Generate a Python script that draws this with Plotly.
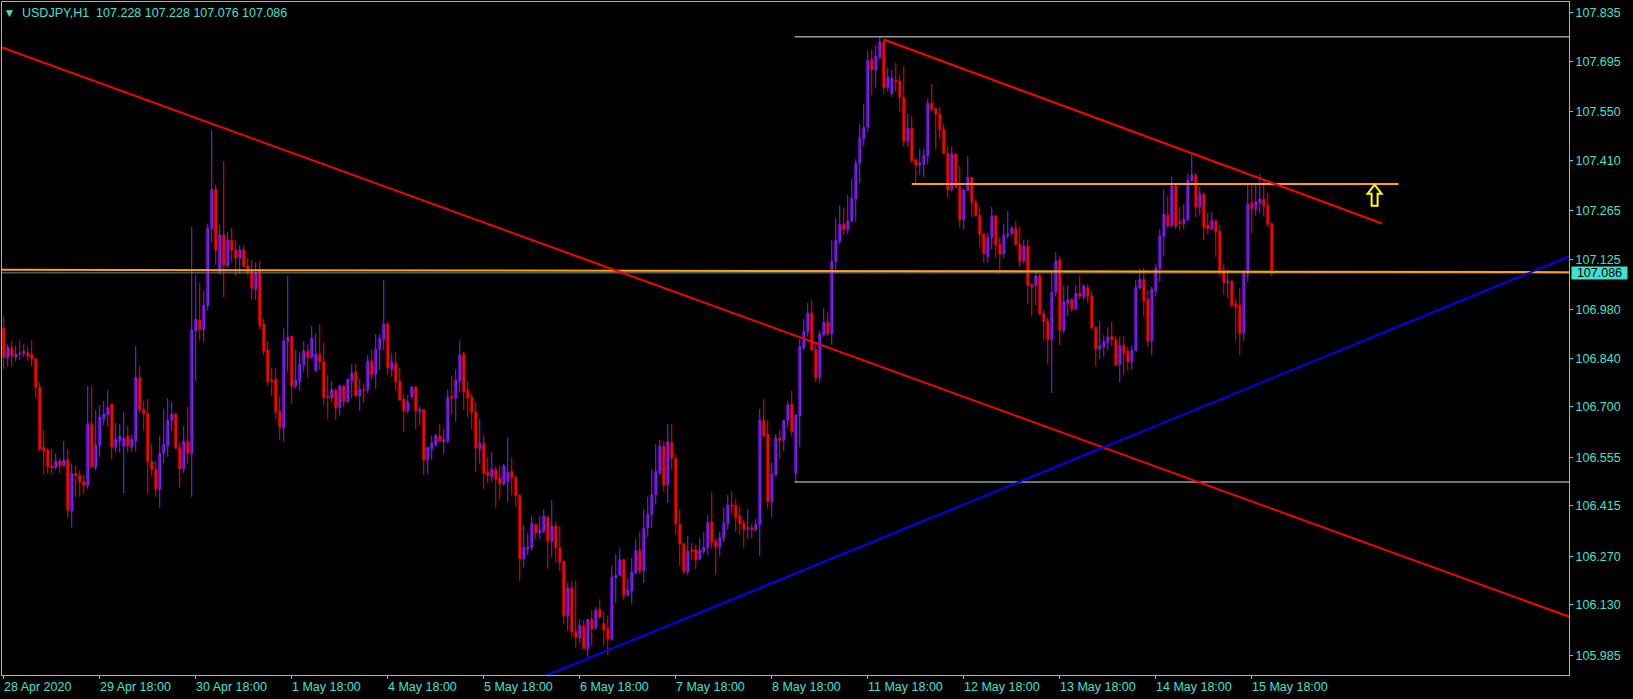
import plotly.graph_objects as go

# ---------------- data (USDJPY H1, one value per bar) ----------------
opens = [106.926,106.843,106.868,106.844,106.855,106.855,106.855,106.851,106.839,106.756,
106.583,106.576,106.530,106.526,106.544,106.530,106.547,106.401,106.508,106.503,
106.486,106.475,106.650,106.528,106.589,106.666,106.678,106.708,106.585,106.603,
106.587,106.615,106.585,106.602,106.785,106.693,106.681,106.543,106.520,106.463,
106.568,106.588,106.662,106.679,106.583,106.522,106.601,106.566,106.919,106.950,
106.923,106.992,107.214,107.327,107.088,107.195,107.108,107.180,107.152,107.129,
107.152,107.106,107.089,107.039,107.091,106.938,106.864,106.776,106.780,106.688,
106.640,106.888,106.903,106.760,106.775,106.822,106.861,106.844,106.804,106.851,
106.829,106.731,106.727,106.748,106.698,106.760,106.715,106.775,106.799,106.732,
106.750,106.750,106.832,106.794,106.866,106.896,106.938,106.809,106.825,106.774,
106.722,106.689,106.729,106.757,106.689,106.693,106.547,106.579,106.591,106.616,
106.600,106.602,106.731,106.726,106.775,106.852,106.748,106.728,106.685,106.579,
106.595,106.512,106.499,106.520,106.495,106.479,106.484,106.514,106.496,106.446,
106.263,106.291,106.295,106.362,106.338,106.343,106.382,106.314,106.357,106.295,
106.256,106.099,106.178,106.054,106.036,106.069,106.004,106.088,106.065,106.117,
106.076,106.062,106.032,106.208,106.215,106.259,106.158,106.170,106.222,106.286,
106.229,106.352,106.391,106.447,106.509,106.586,106.476,106.597,106.551,106.361,
106.306,106.226,106.288,106.288,106.262,106.284,106.295,106.369,106.314,106.297,
106.322,106.363,106.418,106.416,106.385,106.366,106.349,106.352,106.347,106.361,
106.661,106.621,106.427,106.505,106.610,106.604,106.661,106.707,106.509,106.674,
106.870,106.917,106.970,106.865,106.787,106.908,106.943,106.912,107.119,107.177,
107.226,107.211,107.235,107.299,107.403,107.472,107.505,107.701,107.670,107.708,
107.751,107.620,107.603,107.641,107.638,107.591,107.466,107.502,107.411,107.397,
107.399,107.423,107.574,107.560,107.543,107.499,107.430,107.326,107.428,107.334,
107.240,107.324,107.361,107.289,107.251,107.198,107.134,107.188,107.250,107.169,
107.142,107.194,107.200,107.214,107.168,107.121,107.163,107.052,107.050,107.077,
106.969,106.947,106.894,107.030,107.123,106.921,107.000,107.010,106.982,107.028,
107.017,107.044,107.019,106.930,106.867,106.873,106.886,106.903,106.894,106.823,
106.877,106.861,106.830,106.862,107.043,107.067,107.010,106.890,107.034,107.099,
107.190,107.252,107.221,107.336,107.232,107.228,107.238,107.351,107.368,107.276,
107.313,107.224,107.213,107.236,107.206,107.094,107.058,107.062,106.996,106.993,
106.914,107.082,107.288,107.271,107.288,107.298,107.281,107.228]

highs = [106.962,106.880,106.890,106.877,106.892,106.880,106.873,106.892,106.840,106.772,
106.633,106.580,106.580,106.566,106.552,106.602,106.578,106.537,106.531,106.518,
106.506,106.760,106.760,106.691,106.705,106.717,106.748,106.710,106.654,106.651,
106.685,106.645,106.619,106.875,106.818,106.718,106.723,106.593,106.544,106.617,
106.694,106.725,106.714,106.681,106.600,106.645,106.700,107.219,107.080,107.058,
107.034,107.228,107.497,107.339,107.224,107.408,107.203,107.215,107.180,107.166,
107.166,107.129,107.123,107.117,107.120,106.955,106.890,106.814,106.811,106.731,
106.926,107.077,106.904,106.864,106.856,106.890,106.881,106.933,106.912,106.938,
106.886,106.792,106.774,106.753,106.763,106.763,106.782,106.823,106.825,106.779,
106.768,106.849,106.864,106.910,106.910,107.065,106.947,106.854,106.858,106.813,
106.737,106.734,106.760,106.760,106.702,106.693,106.584,106.618,106.622,106.652,
106.638,106.750,106.789,106.808,106.892,106.858,106.774,106.739,106.714,106.667,
106.618,106.556,106.570,106.528,106.531,106.535,106.613,106.555,106.504,106.446,
106.359,106.337,106.387,106.363,106.386,106.405,106.386,106.432,106.370,106.357,
106.256,106.194,106.198,106.199,106.089,106.086,106.089,106.115,106.124,106.146,
106.109,106.099,106.242,106.276,106.292,106.264,106.206,106.265,106.319,106.339,
106.407,106.441,106.520,106.593,106.606,106.600,106.652,106.650,106.564,106.405,
106.308,106.328,106.308,106.303,106.322,106.339,106.388,106.454,106.322,106.341,
106.410,106.446,106.457,106.435,106.413,106.374,106.405,106.363,106.377,106.694,
106.722,106.661,106.540,106.622,106.633,106.662,106.718,106.746,106.680,106.895,
106.953,107.000,107.007,106.881,106.919,106.986,106.972,107.179,107.245,107.280,
107.275,107.310,107.356,107.413,107.514,107.572,107.726,107.730,107.742,107.766,
107.758,107.678,107.670,107.691,107.656,107.682,107.545,107.538,107.416,107.444,
107.444,107.588,107.630,107.560,107.564,107.516,107.449,107.449,107.430,107.394,
107.329,107.422,107.363,107.298,107.276,107.200,107.200,107.276,107.252,107.190,
107.228,107.265,107.221,107.236,107.219,107.182,107.182,107.056,107.086,107.086,
106.979,106.958,107.086,107.146,107.134,107.048,107.050,107.011,107.050,107.079,
107.053,107.054,107.034,106.931,106.947,106.907,106.929,106.945,106.904,106.902,
106.904,106.873,106.875,107.065,107.099,107.101,107.036,107.046,107.113,107.211,
107.326,107.307,107.363,107.339,107.276,107.284,107.372,107.432,107.374,107.334,
107.317,107.257,107.261,107.236,107.224,107.111,107.094,107.065,107.012,107.041,
107.094,107.339,107.342,107.344,107.370,107.349,107.317,107.228]

lows = [106.808,106.816,106.816,106.830,106.835,106.844,106.833,106.816,106.727,106.571,
106.505,106.508,106.506,106.518,106.510,106.528,106.382,106.353,106.441,106.441,
106.451,106.465,106.525,106.516,106.556,106.648,106.643,106.549,106.568,106.568,
106.451,106.568,106.571,106.571,106.681,106.631,106.451,106.501,106.441,106.410,
106.537,106.556,106.631,106.578,106.467,106.510,106.537,106.441,106.775,106.892,
106.888,106.977,107.173,107.108,107.080,107.016,107.100,107.117,107.077,107.083,
107.100,107.080,107.010,107.008,106.924,106.849,106.760,106.732,106.665,106.606,
106.600,106.801,106.708,106.753,106.746,106.801,106.784,106.838,106.801,106.806,
106.705,106.665,106.715,106.662,106.676,106.700,106.712,106.724,106.727,106.688,
106.712,106.739,106.777,106.752,106.806,106.862,106.792,106.787,106.747,106.718,
106.628,106.681,106.722,106.636,106.648,106.504,106.506,106.547,106.585,106.600,
106.564,106.595,106.679,106.657,106.744,106.691,106.669,106.633,106.513,106.537,
106.464,106.480,106.484,106.410,106.435,106.473,106.427,106.446,106.412,106.199,
106.238,106.274,106.286,106.318,106.320,106.337,106.234,106.268,106.251,106.228,
106.076,106.055,106.038,106.007,106.019,106.002,105.980,106.013,106.057,106.088,
106.013,105.985,106.026,106.136,106.211,106.144,106.155,106.131,106.220,106.220,
106.193,106.325,106.352,106.418,106.505,106.457,106.424,106.518,106.333,106.242,
106.218,106.215,106.259,106.233,106.259,106.275,106.273,106.292,106.217,106.270,
106.311,106.347,106.391,106.341,106.333,106.295,106.319,106.322,106.341,106.270,
106.611,106.407,106.383,106.501,106.551,106.573,106.639,106.615,106.482,106.584,
106.862,106.903,106.859,106.771,106.769,106.903,106.903,106.879,107.085,107.168,
107.193,107.198,107.233,107.233,107.344,107.449,107.492,107.598,107.620,107.701,
107.603,107.608,107.593,107.608,107.550,107.449,107.449,107.403,107.344,107.368,
107.361,107.399,107.550,107.443,107.470,107.428,107.303,107.320,107.331,107.217,
107.212,107.322,107.246,107.248,107.159,107.115,107.115,107.154,107.128,107.084,
107.128,107.185,107.192,107.165,107.102,107.113,106.996,106.960,106.993,106.964,
106.890,106.822,106.739,107.017,106.878,106.912,106.962,106.974,106.979,107.010,
107.008,106.998,106.921,106.816,106.837,106.844,106.864,106.875,106.819,106.770,
106.792,106.804,106.808,106.861,107.038,106.960,106.873,106.849,107.019,107.060,
107.134,107.216,107.219,107.211,107.207,107.213,107.236,107.348,107.246,107.252,
107.180,107.198,107.209,107.132,107.075,107.023,107.012,106.986,106.892,106.849,
106.890,107.060,107.200,107.250,107.257,107.248,107.219,107.076]

closes = [106.843,106.871,106.847,106.851,106.853,106.860,106.847,106.839,106.756,106.579,
106.574,106.528,106.525,106.544,106.531,106.546,106.403,106.508,106.502,106.484,
106.475,106.652,106.528,106.589,106.670,106.679,106.698,106.585,106.606,106.615,
106.609,106.588,106.606,106.785,106.693,106.681,106.542,106.520,106.463,106.566,
106.592,106.661,106.678,106.581,106.522,106.601,106.566,106.921,106.952,106.924,
106.992,107.214,107.326,107.152,107.195,107.108,107.180,107.152,107.129,107.152,
107.106,107.088,107.042,107.087,106.936,106.861,106.775,106.774,106.685,106.643,
106.890,106.900,106.760,106.777,106.823,106.861,106.844,106.897,106.851,106.830,
106.727,106.729,106.750,106.698,106.760,106.715,106.779,106.796,106.732,106.750,
106.748,106.832,106.794,106.866,106.897,106.938,106.813,106.828,106.772,106.720,
106.689,106.713,106.757,106.689,106.693,106.547,106.583,106.595,106.618,106.602,
106.605,106.727,106.725,106.777,106.849,106.744,106.726,106.685,106.582,106.595,
106.510,106.502,106.520,106.493,106.479,106.530,106.511,106.496,106.445,106.263,
106.295,106.296,106.365,106.338,106.345,106.386,106.314,106.357,106.295,106.254,
106.099,106.178,106.052,106.036,106.071,106.004,106.088,106.062,106.114,106.096,
106.058,106.032,106.210,106.215,106.259,106.158,106.172,106.224,106.286,106.229,
106.350,106.390,106.447,106.514,106.586,106.476,106.600,106.553,106.363,106.306,
106.226,106.284,106.284,106.259,106.286,106.295,106.366,106.310,106.297,106.324,
106.366,106.418,106.415,106.382,106.363,106.349,106.352,106.347,106.361,106.661,
106.617,106.427,106.507,106.610,106.604,106.661,106.705,106.630,106.676,106.873,
106.917,106.970,106.865,106.784,106.909,106.943,106.912,107.118,107.179,107.225,
107.212,107.235,107.301,107.401,107.473,107.505,107.697,107.672,107.710,107.751,
107.620,107.649,107.646,107.636,107.593,107.466,107.502,107.409,107.397,107.401,
107.424,107.574,107.558,107.542,107.499,107.430,107.326,107.428,107.334,107.240,
107.324,107.361,107.289,107.251,107.197,107.142,107.188,107.250,107.167,107.140,
107.194,107.198,107.214,107.167,107.121,107.163,107.050,107.046,107.077,106.968,
106.945,106.894,107.030,107.120,106.921,107.002,107.008,106.982,107.027,107.020,
107.048,107.019,106.928,106.867,106.875,106.887,106.900,106.894,106.820,106.877,
106.856,106.830,106.863,107.044,107.067,107.006,106.890,107.038,107.099,107.192,
107.255,107.221,107.336,107.221,107.228,107.240,107.353,107.368,107.276,107.313,
107.218,107.213,107.236,107.204,107.094,107.058,107.062,106.993,106.988,106.912,
107.084,107.284,107.271,107.290,107.298,107.278,107.226,107.086]

# time-axis labels (one every 24 bars, MT4 style)
time_labels = ["28 Apr 2020", "29 Apr 18:00", "30 Apr 18:00", "1 May 18:00", "4 May 18:00",
               "5 May 18:00", "6 May 18:00", "7 May 18:00", "8 May 18:00", "11 May 18:00",
               "12 May 18:00", "13 May 18:00", "14 May 18:00", "15 May 18:00"]
time_label_bars = [0, 24, 48, 72, 96, 120, 144, 168, 192, 216, 240, 264, 288, 312]

price_ticks = [107.835, 107.695, 107.550, 107.410, 107.265, 107.125, 106.980,
               106.840, 106.700, 106.555, 106.415, 106.270, 106.130, 105.985]

# drawn objects: anchor points (bar index, price)
red_trend_long = ([-0.43, 391.3], [107.735, 106.096])
red_trend_short = ([220.0, 344.6], [107.758, 107.228])
blue_trend = ([130.0, 391.3], [105.900, 107.133])
orange_upper = ([227.0, 348.7], [107.342, 107.342])
orange_lower = ([-0.43, 391.3], [107.095, 107.088])
gray_top = ([197.7, 391.3], [107.766, 107.766])
gray_bottom = ([197.7, 391.3], [106.484, 106.484])
bid_price = 107.086
arrow_point = (342.7, 107.340)
title_text = "USDJPY,H1  107.228 107.228 107.076 107.086"

# ---------------- styling ----------------
FG = "#40E0D0"
BULL_LINE = "#8a1cff"
BULL_FILL = "#6a00ff"
BEAR = "#ff0000"
FONT = "Liberation Sans"

x_range = [-0.43, 391.3]
y_range = [105.928, 107.866]

bars = list(range(len(opens)))

fig = go.Figure()
fig.add_trace(go.Candlestick(
    x=bars, open=opens, high=highs, low=lows, close=closes,
    increasing=dict(line=dict(color=BULL_LINE, width=1), fillcolor=BULL_FILL),
    decreasing=dict(line=dict(color=BEAR, width=1), fillcolor=BEAR),
    whiskerwidth=0, hoverinfo="skip", showlegend=False,
))

def add_line(pts, color, width):
    fig.add_trace(go.Scatter(x=pts[0], y=pts[1], mode="lines",
                             line=dict(color=color, width=width),
                             hoverinfo="skip", showlegend=False))

add_line(([x_range[0], x_range[1]], [bid_price, bid_price]), "#778899", 1)
add_line(gray_top, "#9a9a9a", 1.5)
add_line(gray_bottom, "#9a9a9a", 1.5)
add_line(orange_lower, "#FFA500", 2)
add_line(orange_upper, "#FFA500", 2)
add_line(red_trend_long, BEAR, 2)
add_line(red_trend_short, BEAR, 2)
add_line(blue_trend, "#0000ff", 2)

# yellow hollow up-arrow
fig.add_shape(type="path", xref="x", yref="y", xsizemode="pixel", ysizemode="pixel",
              xanchor=arrow_point[0], yanchor=arrow_point[1],
              path="M 0,0 L 7,-9 L 3,-9 L 3,-21 L -3,-21 L -3,-9 L -7,-9 Z",
              line=dict(color="#ffff00", width=2), fillcolor="rgba(0,0,0,0)")

annotations = []
for b, t in zip(time_label_bars, time_labels):
    annotations.append(dict(x=b, y=0, xref="x", yref="paper", text=t, showarrow=False,
                            xanchor="left", yanchor="top", xshift=-2, yshift=-3,
                            font=dict(family=FONT, size=12.5, color=FG)))
annotations.append(dict(x=0, y=1, xref="paper", yref="paper", text=title_text,
                        showarrow=False, xanchor="left", yanchor="middle",
                        xshift=18, yshift=-10.5,
                        font=dict(family=FONT, size=12.5, color=FG)))
annotations.append(dict(x=0, y=1, xref="paper", yref="paper", text="▼",
                        showarrow=False, xanchor="left", yanchor="middle",
                        xshift=2, yshift=-10.5,
                        font=dict(family="DejaVu Sans", size=9, color=FG)))
annotations.append(dict(x=1, y=bid_price, xref="paper", yref="y", text=str(bid_price),
                        showarrow=False, xanchor="left", yanchor="middle",
                        xshift=2, width=55, height=12, bgcolor=FG, borderpad=0,
                        font=dict(family=FONT, size=12.5, color="#000000")))

fig.update_layout(
    width=1633, height=699,
    margin=dict(l=2, r=64, t=2, b=24),
    paper_bgcolor="#000000", plot_bgcolor="#000000",
    annotations=annotations,
    boxgap=0.4,
    hovermode=False,
    xaxis=dict(range=x_range, showgrid=False, zeroline=False, rangeslider=dict(visible=False),
               tickmode="array", tickvals=time_label_bars, showticklabels=False,
               ticks="outside", ticklen=3, tickcolor=FG,
               showline=True, linecolor=FG, linewidth=1, mirror=True),
    yaxis=dict(range=y_range, side="right", showgrid=False, zeroline=False,
               tickmode="array", tickvals=price_ticks,
               ticktext=[f"{p:.3f}" for p in price_ticks],
               ticks="outside", ticklen=3, tickcolor=FG,
               tickfont=dict(family=FONT, size=12.5, color=FG),
               showline=True, linecolor=FG, linewidth=1, mirror=True),
)

fig.write_html("out.html", config={"displayModeBar": False},
               post_script="document.body.style.margin='0px';"
                           "document.body.style.padding='0px';"
                           "document.body.style.background='#000000';"
                           "document.body.style.overflow='hidden';")
